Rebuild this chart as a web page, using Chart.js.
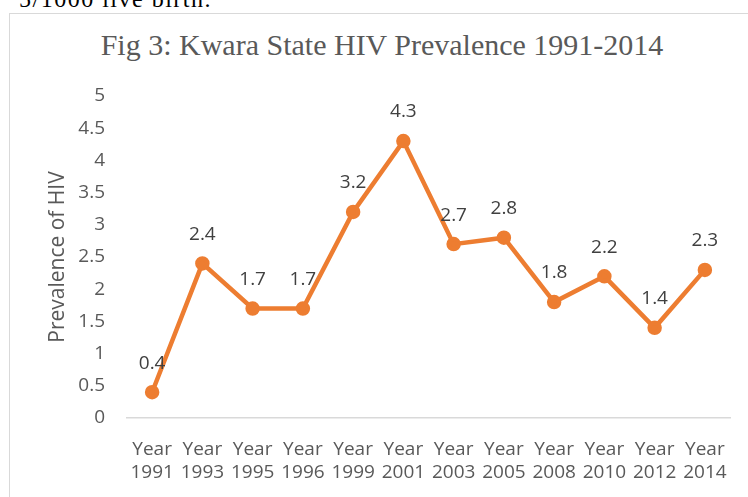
<!DOCTYPE html>
<html>
<head>
<meta charset="utf-8">
<script src="https://cdn.jsdelivr.net/npm/chart.js@4"></script>
<style>
  html, body { margin: 0; padding: 0; background: #fff; }
  #wrap { position: relative; width: 748px; height: 497px; overflow: hidden; background: #fff; }
  #box { position: absolute; left: 9px; top: 13px; width: 760px; height: 500px; border: 1px solid #d9d9d9; box-sizing: border-box; }
  #prev { position: absolute; right: 536px; top: -13px; font: 24px "Liberation Serif", serif; line-height: 24px; color: #000; white-space: nowrap; letter-spacing: 1.5px; }
  #title { position: absolute; left: 0; width: 764px; top: 27px; text-align: center; font: 30px "Liberation Serif", serif; line-height: 36px; color: #595959; white-space: nowrap; }
  canvas { position: absolute; left: 0; top: 0; }
</style>
</head>
<body>
<div id="wrap">
  <div id="prev">5/1000 live birth.</div>
  <div id="box"></div>
  <div id="title">Fig 3: Kwara State HIV Prevalence 1991-2014</div>
  <canvas id="c" width="748" height="497"></canvas>
</div>
<script>
const categories = ["1991","1993","1995","1996","1999","2001","2003","2005","2008","2010","2012","2014"];
const prevalence = [0.4, 2.4, 1.7, 1.7, 3.2, 4.3, 2.7, 2.8, 1.8, 2.2, 1.4, 2.3];
const yTicks = [0, 0.5, 1, 1.5, 2, 2.5, 3, 3.5, 4, 4.5, 5];
const labelPrefix = "Year";
const yTitle = "Prevalence of HIV";

const tickFont = { family: "'Open Sans', sans-serif", size: 19, lineHeight: '23px' };

const dataLabels = {
  id: 'dataLabels',
  afterDatasetsDraw(chart) {
    const ctx = chart.ctx;
    const meta = chart.getDatasetMeta(0);
    ctx.save();
    ctx.font = "19px 'Open Sans', sans-serif";
    ctx.fillStyle = '#404040';
    ctx.textAlign = 'center';
    ctx.textBaseline = 'middle';
    meta.data.forEach((pt, i) => {
      const v = chart.data.datasets[0].data[i];
      ctx.fillText(String(v), pt.x, pt.y - 29);
    });
    ctx.restore();
  }
};

new Chart(document.getElementById('c'), {
  type: 'line',
  data: {
    labels: categories.map(c => [labelPrefix, c]),
    datasets: [{
      data: prevalence,
      borderColor: '#ED7D31',
      backgroundColor: '#ED7D31',
      pointBackgroundColor: '#ED7D31',
      pointBorderColor: '#ED7D31',
      borderWidth: 4.5,
      pointRadius: 5,
      tension: 0,
      fill: false
    }]
  },
  options: {
    responsive: false,
    animation: false,
    layout: { padding: { top: 96, left: 0, right: 18, bottom: 0 } },
    plugins: { legend: { display: false }, title: { display: false }, tooltip: { enabled: false } },
    scales: {
      x: {
        offset: true,
        grid: { display: false, drawTicks: false },
        border: { display: true, color: '#d9d9d9', width: 1.5 },
        ticks: { color: '#595959', font: tickFont, padding: 20, maxRotation: 0, minRotation: 0, autoSkip: false },
        afterFit(s) { s.height = 79; }
      },
      y: {
        min: 0, max: 5,
        afterBuildTicks(s) { s.ticks = yTicks.map(v => ({ value: v })); },
        grid: { display: false, drawTicks: false },
        border: { display: false },
        ticks: { color: '#595959', font: tickFont, padding: 22, callback: v => String(v) },
        title: { display: true, text: yTitle, color: '#595959', font: { family: "'Open Sans', sans-serif", size: 21, lineHeight: 1.2 }, padding: { top: 45, bottom: 0 } },
        afterFit(s) { s.width = 127; }
      }
    }
  },
  plugins: [dataLabels]
});
</script>
</body>
</html>
